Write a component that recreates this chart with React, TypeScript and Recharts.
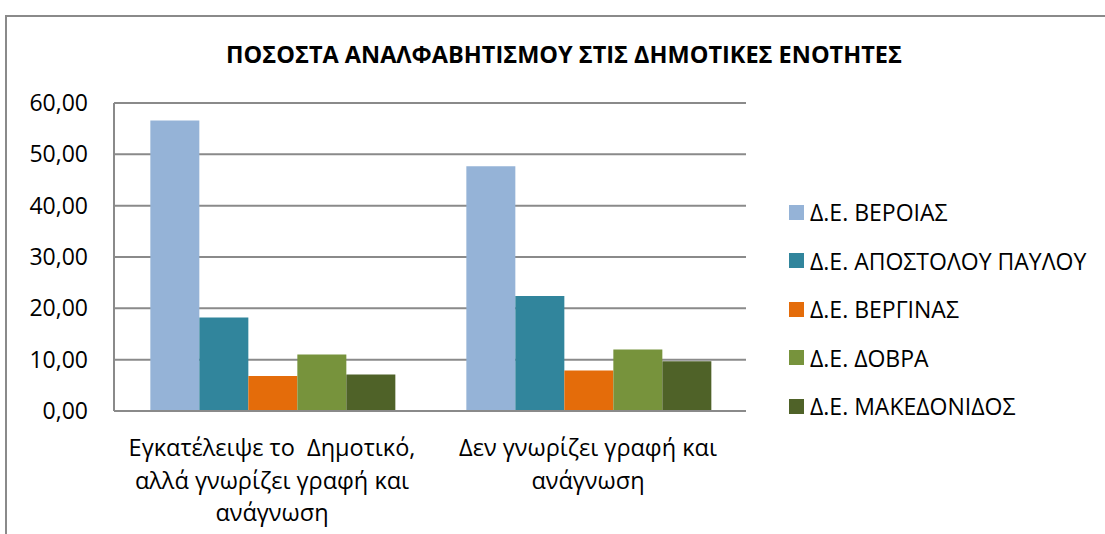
import React from "react";
import { BarChart, Bar, XAxis, YAxis, CartesianGrid, Legend } from "recharts";

const categories = [
  "Εγκατέλειψε το  Δημοτικό,|αλλά γνωρίζει γραφή και|ανάγνωση",
  "Δεν γνωρίζει γραφή και|ανάγνωση",
];
const seriesNames = [
  "Δ.Ε. ΒΕΡΟΙΑΣ",
  "Δ.Ε. ΑΠΟΣΤΟΛΟΥ ΠΑΥΛΟΥ",
  "Δ.Ε. ΒΕΡΓΙΝΑΣ",
  "Δ.Ε. ΔΟΒΡΑ",
  "Δ.Ε. ΜΑΚΕΔΟΝΙΔΟΣ",
];
const veroias = [56.6, 47.7];
const apostolouPavlou = [18.2, 22.4];
const verginas = [6.8, 7.9];
const dovra = [11.0, 12.0];
const makedonidos = [7.1, 9.7];
const yTicks = [0, 10, 20, 30, 40, 50, 60];
const colors = ["#95B3D7", "#31859C", "#E46C0A", "#77933C", "#4F6228"];
const title = "ΠΟΣΟΣΤΑ ΑΝΑΛΦΑΒΗΤΙΣΜΟΥ ΣΤΙΣ ΔΗΜΟΤΙΚΕΣ ΕΝΟΤΗΤΕΣ";

const allSeries = [veroias, apostolouPavlou, verginas, dovra, makedonidos];
const data = categories.map((c, i) => {
  const row: Record<string, any> = { cat: c };
  seriesNames.forEach((n, s) => {
    row[n] = allSeries[s][i];
  });
  return row;
});

const FONT = "'Open Sans', 'DejaVu Sans', sans-serif";

const XTick = (props: any) => {
  const { x, y, payload } = props;
  const lines = String(payload.value).split("|");
  return (
    <text
      x={x}
      y={y}
      textAnchor="middle"
      fontFamily={FONT}
      fontSize={23.5}
      fill="#000"
      style={{ whiteSpace: "pre" }}
    >
      {lines.map((l, i) => (
        <tspan key={i} x={x} dy={i === 0 ? 37 : 32.5}>
          {l}
        </tspan>
      ))}
    </text>
  );
};

const LegendContent = () => (
  <div style={{ fontFamily: FONT }}>
    {seriesNames.map((n, i) => (
      <div key={n} style={{ display: "flex", alignItems: "center", height: 48.5 }}>
        <div style={{ width: 15, height: 15, background: colors[i], marginRight: 6 }} />
        <span style={{ fontSize: 23, color: "#000", whiteSpace: "nowrap" }}>{n}</span>
      </div>
    ))}
  </div>
);

export default function App() {
  return (
    <div
      style={{
        position: "fixed",
        left: 0,
        top: 0,
        width: 1105,
        height: 534,
        overflow: "hidden",
        background: "#fff",
      }}
    >
      <div
        style={{
          position: "absolute",
          left: 5,
          top: 15,
          width: 1200,
          height: 600,
          borderLeft: "2px solid #8a8a8a",
          borderTop: "2px solid #8a8a8a",
        }}
      />
      <div
        style={{
          position: "absolute",
          left: 0,
          top: 0,
          width: 1105,
          height: 534,
        }}
      >
        <BarChart
          width={1105}
          height={534}
          data={data}
          margin={{ top: 103, right: 359, bottom: 0, left: 0 }}
          barCategoryGap="11.5%"
          barGap={0}
        >
          <CartesianGrid horizontal vertical={false} stroke="#8a8a8a" strokeWidth={2} />
          <XAxis
            dataKey="cat"
            height={123}
            tick={<XTick />}
            tickLine={false}
            axisLine={{ stroke: "#8a8a8a", strokeWidth: 2 }}
            interval={0}
          />
          <YAxis
            width={114}
            domain={[0, 60]}
            ticks={yTicks}
            tickFormatter={(v: number) => v.toFixed(2).replace(".", ",")}
            tickLine={false}
            tickSize={0}
            tickMargin={26}
            axisLine={{ stroke: "#8a8a8a", strokeWidth: 2 }}
            tick={{ fontFamily: FONT, fontSize: 23, fill: "#000" }}
          />
          <Legend
            layout="vertical"
            align="center"
            verticalAlign="middle"
            content={<LegendContent />}
            wrapperStyle={{ left: 789, top: 188, width: 316 }}
          />
          {seriesNames.map((n, i) => (
            <Bar key={n} dataKey={n} fill={colors[i]} isAnimationActive={false} />
          ))}
        </BarChart>
      </div>
      <div
        style={{
          position: "absolute",
          left: 0,
          top: 38,
          width: 1128,
          textAlign: "center",
          fontFamily: FONT,
          fontWeight: 700,
          fontSize: 23.5,
          color: "#000",
          whiteSpace: "nowrap",
        }}
      >
        {title}
      </div>
    </div>
  );
}
